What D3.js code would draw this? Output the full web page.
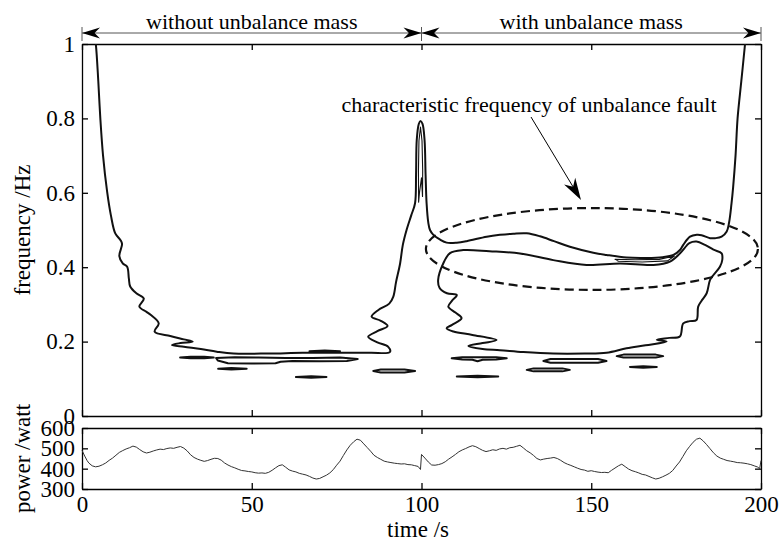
<!DOCTYPE html>
<html>
<head>
<meta charset="utf-8">
<script src="https://cdn.jsdelivr.net/npm/d3@7"></script>
<style>
  body { margin: 0; background: #fff; }
  svg { display: block; font-family: "Liberation Serif", "Times New Roman", serif; }
  .axis path, .axis line { stroke: #000; stroke-width: 1.3; }
  .axis text { font-size: 23px; fill: #000; font-family: "Liberation Serif", serif; }
  .ridge { fill: none; stroke: #111; stroke-width: 2; stroke-linejoin: round; stroke-linecap: round; }
  .thin { stroke-width: 1.1; }
  .label { font-size: 23px; fill: #000; }
  .note { font-size: 22px; fill: #000; }
</style>
</head>
<body>
<svg id="chart" width="780" height="542"></svg>
<script>
const timeTicks = [0, 50, 100, 150, 200];
const freqTicks = [0, 0.2, 0.4, 0.6, 0.8, 1];
const powerTicks = [300, 400, 500, 600];

// contour lines, [time s, frequency Hz]
const mainRidge = [
  [3.6, 1.03], [4.1, 0.997], [4.8, 0.9], [5.4, 0.8], [6.2, 0.7], [7.4, 0.603], [8.5, 0.54],
  [9.8, 0.491], [11.4, 0.472], [11.8, 0.462], [11.0, 0.43], [12.0, 0.41], [13.3, 0.401],
  [13.8, 0.37], [14.2, 0.348], [16, 0.33], [18.2, 0.316], [16.9, 0.294], [19, 0.28],
  [20.2, 0.272], [22.6, 0.249], [21.4, 0.227], [26, 0.215], [30, 0.206], [32.6, 0.2],
  [29, 0.196], [26.5, 0.191], [30, 0.186], [35, 0.18], [39.7, 0.173], [44.6, 0.168],
  [55, 0.168], [65, 0.17], [75, 0.17], [85, 0.17], [90.7, 0.172], [90.2, 0.186], [87, 0.198],
  [84.3, 0.213], [87, 0.228], [90, 0.242], [88, 0.256], [85.3, 0.267], [87.3, 0.285],
  [90.5, 0.302], [91.7, 0.321], [92.5, 0.36], [93.7, 0.41], [94.5, 0.46], [95.6, 0.5],
  [97, 0.54], [98.1, 0.572], [98.4, 0.65], [98.6, 0.742], [99.2, 0.785], [99.7, 0.793],
  [100.3, 0.785], [100.9, 0.742], [101.2, 0.65], [101.5, 0.572], [102.0, 0.52], [102.5, 0.5],
  [103.5, 0.487], [105.5, 0.474], [107.4, 0.466], [110.4, 0.466], [113.3, 0.47], [119.2, 0.482],
  [123.1, 0.487], [127, 0.49], [131, 0.491], [134.9, 0.483], [139, 0.47], [143.7, 0.455],
  [150.6, 0.439], [154.5, 0.433], [160.4, 0.426], [166, 0.425], [171, 0.427], [174.2, 0.433],
  [176.2, 0.447], [177.1, 0.46], [179.1, 0.482], [181.1, 0.487], [182.5, 0.486], [185, 0.478],
  [186.5, 0.478], [188.4, 0.482], [189.9, 0.496], [190.6, 0.52], [191.3, 0.57], [191.8, 0.616],
  [192.5, 0.7], [193.1, 0.8], [194.2, 0.9], [195.3, 1.0], [195.6, 1.03]
];

const lowerRidge = [
  [112.3, 0.446], [108.4, 0.438], [106.4, 0.41], [104.9, 0.366], [105.3, 0.345], [107.5, 0.33],
  [110.4, 0.325], [109, 0.31], [107.9, 0.294], [110, 0.278], [111.8, 0.263], [109, 0.245],
  [107.4, 0.236], [109.4, 0.227], [115, 0.218], [122.1, 0.204], [118, 0.196], [113.8, 0.188],
  [118, 0.18], [123.1, 0.177], [130, 0.172], [138.8, 0.168], [148, 0.168], [154.5, 0.17],
  [160.4, 0.182], [166, 0.19], [172.2, 0.2], [169.3, 0.205], [173, 0.21], [176.1, 0.214],
  [177.1, 0.249], [179, 0.255], [181, 0.258], [181.5, 0.294], [182.5, 0.31], [184, 0.33],
  [185, 0.366], [186, 0.379], [187.9, 0.401], [188.6, 0.42], [188.4, 0.437], [186, 0.447],
  [183.5, 0.46], [181, 0.469], [178.9, 0.465], [178.1, 0.458], [176.1, 0.437], [173.2, 0.415],
  [168.3, 0.406], [158.5, 0.41], [148.6, 0.406], [138.8, 0.419], [129, 0.437], [120, 0.443]
];

const peakCore = [
  [99.15, 0.575], [99.1, 0.66], [99.25, 0.74], [99.7, 0.777], [100.15, 0.74], [100.35, 0.66],
  [100.3, 0.59], [100.0, 0.64], [99.7, 0.62], [99.4, 0.6]
];

const ringCore = [
  [157, 0.421], [163, 0.42], [170, 0.421], [174.5, 0.43], [172.5, 0.417], [165, 0.414], [158, 0.416]
];

const islands = [
  [[28.9, 0.157], [32, 0.159], [36, 0.159], [38.8, 0.157], [36, 0.155], [32, 0.155]],
  [[39.5, 0.156], [45, 0.158], [52, 0.157], [60, 0.156], [68, 0.156], [76, 0.157], [81.2, 0.153],
   [78, 0.148], [70, 0.147], [62, 0.148], [58.5, 0.146], [57, 0.142], [50, 0.141], [43, 0.142], [40, 0.149]],
  [[67, 0.174], [71.5, 0.176], [76, 0.174], [71.5, 0.172]],
  [[40.1, 0.127], [44, 0.129], [48.5, 0.127], [44, 0.125]],
  [[63, 0.105], [67.5, 0.107], [72, 0.105], [67.5, 0.103]],
  [[85.8, 0.121], [88, 0.125], [95, 0.125], [98.1, 0.121], [95, 0.117], [88, 0.117]],
  [[108.9, 0.155], [112, 0.158], [117, 0.158], [122, 0.158], [125.1, 0.155], [122, 0.152],
   [118, 0.151], [116.5, 0.147], [115, 0.151], [112, 0.152]],
  [[110.4, 0.106], [116.5, 0.108], [122.6, 0.106], [116.5, 0.104]],
  [[135.9, 0.148], [138, 0.153], [152, 0.153], [154.5, 0.148], [152, 0.143], [138, 0.143]],
  [[131, 0.124], [133, 0.128], [141.5, 0.128], [143.7, 0.124], [141.5, 0.12], [133, 0.12]],
  [[157.5, 0.161], [159.5, 0.165], [169, 0.165], [171.2, 0.161], [169, 0.157], [159.5, 0.157]],
  [[161.4, 0.132], [165.3, 0.134], [169.3, 0.132], [165.3, 0.130]]
];

// [time s, power W]
const power = [
  [0, 490], [0.8, 462], [1.5, 440], [2, 428], [3, 414], [4, 409], [5, 412], [6, 419], [7, 428],
  [8, 441], [9, 452], [10, 466], [11, 480], [12, 489], [13, 497], [14, 503], [15, 511], [16, 506],
  [17, 494], [18, 483], [19, 477], [20, 481], [21, 487], [22, 492], [23, 496], [24, 494], [25, 499],
  [26, 502], [27, 500], [28, 505], [29, 509], [30, 501], [31, 487], [32, 468], [33, 455], [34, 447],
  [35, 441], [36, 436], [37, 440], [38, 446], [39, 451], [40, 450], [41, 442], [42, 428], [43, 418],
  [44, 410], [45, 404], [46, 397], [47, 391], [48, 389], [49, 386], [50, 384], [51, 380], [52, 378],
  [53, 379], [54, 377], [55, 382], [56, 392], [57, 404], [58, 415], [59, 419], [60, 407], [61, 394],
  [62, 388], [63, 384], [64, 377], [65, 373], [66, 369], [67, 362], [68, 354], [69, 349], [70, 352],
  [71, 360], [72, 368], [73, 379], [74, 395], [75, 417], [76, 437], [77, 465], [78, 492], [79, 515],
  [80, 532], [81, 545], [82, 540], [83, 522], [84, 504], [85, 486], [86, 466], [87, 455], [88, 446],
  [89, 437], [90, 433], [91, 430], [92, 427], [93, 425], [94, 423], [95, 424], [96, 420], [97, 419],
  [98, 415], [99, 411], [99.7, 396], [100, 470], [101, 452], [102, 433], [103, 418], [104, 417],
  [105, 420], [106, 425], [107, 434], [108, 447], [109, 458], [110, 470], [111, 483], [112, 492],
  [113, 499], [114, 507], [115, 513], [116, 508], [117, 499], [118, 490], [119, 484], [120, 488],
  [121, 493], [122, 490], [123, 497], [124, 500], [125, 496], [126, 503], [127, 505], [128, 510],
  [129, 515], [130, 502], [131, 488], [132, 478], [133, 465], [134, 450], [135, 443], [136, 447],
  [137, 450], [138, 452], [139, 455], [140, 450], [141, 441], [142, 430], [143, 422], [144, 416],
  [145, 409], [146, 402], [147, 396], [148, 393], [149, 387], [150, 390], [151, 386], [152, 383],
  [153, 381], [154, 382], [155, 380], [156, 392], [157, 403], [158, 414], [159, 422], [160, 410],
  [161, 398], [162, 390], [163, 385], [164, 379], [165, 372], [166, 369], [167, 362], [168, 355],
  [169, 349], [170, 353], [171, 360], [172, 368], [173, 377], [174, 391], [175, 413], [176, 433],
  [177, 460], [178, 488], [179, 510], [180, 530], [181, 545], [182, 550], [183, 536], [184, 518],
  [185, 498], [186, 478], [187, 462], [188, 452], [189, 446], [190, 440], [191, 437], [192, 434],
  [193, 430], [194, 429], [195, 427], [196, 424], [197, 420], [198, 414], [199, 408], [199.6, 400],
  [200, 440]
];

const spans = [
  { from: 0, to: 100, label: "without unbalance mass" },
  { from: 100, to: 200, label: "with unbalance mass" }
];
const faultZone = { t: 150.2, f: 0.449, rt: 48.9, rf: 0.11 };
const faultNote = "characteristic frequency of unbalance fault";

// layout
const left = 82, right = 761;
const freqTop = 44, freqBottom = 416;
const powTop = 428, powBottom = 489;

const svg = d3.select("#chart");
const x = d3.scaleLinear().domain([0, 200]).range([left, right]);
const yF = d3.scaleLinear().domain([0, 1]).range([freqBottom, freqTop]);
const yP = d3.scaleLinear().domain([300, 600]).range([powBottom, powTop]);

svg.append("defs").append("clipPath").attr("id", "clipF")
  .append("rect").attr("x", left).attr("y", freqTop)
  .attr("width", right - left).attr("height", freqBottom - freqTop);

function boxAxes(yScale, y0, y1, yTicks, showX) {
  const fmt = d3.format("~g");
  svg.append("g").attr("class", "axis").attr("transform", `translate(0,${y1})`)
    .call(d3.axisBottom(x).tickValues(timeTicks).tickSizeInner(-6).tickSizeOuter(0)
      .tickPadding(7).tickFormat(showX ? fmt : ""));
  svg.append("g").attr("class", "axis").attr("transform", `translate(0,${y0})`)
    .call(d3.axisTop(x).tickValues(timeTicks).tickSizeInner(-6).tickSizeOuter(0).tickFormat(""));
  svg.append("g").attr("class", "axis").attr("transform", `translate(${left},0)`)
    .call(d3.axisLeft(yScale).tickValues(yTicks).tickSizeInner(-6).tickSizeOuter(0)
      .tickPadding(7).tickFormat(fmt));
  svg.append("g").attr("class", "axis").attr("transform", `translate(${right},0)`)
    .call(d3.axisRight(yScale).tickValues(yTicks).tickSizeInner(-6).tickSizeOuter(0).tickFormat(""));
}

boxAxes(yF, freqTop, freqBottom, freqTicks, false);
boxAxes(yP, powTop, powBottom, powerTicks, true);
svg.selectAll(".axis .domain").attr("stroke-width", 1.5);

// contours
const smooth = d3.line().x(d => x(d[0])).y(d => yF(d[1])).curve(d3.curveCatmullRom.alpha(0.5));
const smoothClosed = d3.line().x(d => x(d[0])).y(d => yF(d[1])).curve(d3.curveCatmullRomClosed.alpha(0.5));
const closed = d3.line().x(d => x(d[0])).y(d => yF(d[1])).curve(d3.curveLinearClosed);

const plot = svg.append("g").attr("clip-path", "url(#clipF)");
plot.append("path").attr("class", "ridge").attr("d", smooth(mainRidge));
plot.append("path").attr("class", "ridge").attr("d", smoothClosed(lowerRidge));
plot.append("path").attr("class", "ridge thin").attr("d", closed(peakCore));
plot.append("path").attr("class", "ridge thin").attr("d", closed(ringCore));
plot.selectAll(".island").data(islands).join("path")
  .attr("class", "ridge island")
  .attr("stroke-width", 1.8)
  .attr("d", d => closed(d));

// dashed ellipse round the fault frequency
plot.append("ellipse")
  .attr("cx", x(faultZone.t)).attr("cy", yF(faultZone.f))
  .attr("rx", x(faultZone.t + faultZone.rt) - x(faultZone.t))
  .attr("ry", yF(faultZone.f - faultZone.rf) - yF(faultZone.f))
  .attr("fill", "none").attr("stroke", "#111").attr("stroke-width", 2.2)
  .attr("stroke-dasharray", "9,5");

// power line
svg.append("path")
  .datum(power)
  .attr("fill", "none").attr("stroke", "#333").attr("stroke-width", 1)
  .attr("d", d3.line().x(d => x(d[0])).y(d => yP(d[1])));

// arrows
function arrowHead(px, py, angle, len, half) {
  svg.append("path")
    .attr("d", `M0,0L${-len},${-half}L${-len * 0.7},0L${-len},${half}Z`)
    .attr("transform", `translate(${px},${py}) rotate(${angle})`)
    .attr("fill", "#000");
}

const spanY = 33;
spans.forEach(s => {
  svg.append("line")
    .attr("x1", x(s.from)).attr("x2", x(s.to)).attr("y1", spanY).attr("y2", spanY)
    .attr("stroke", "#555").attr("stroke-width", 1);
  arrowHead(x(s.from), spanY, 180, 18, 5.5);
  arrowHead(x(s.to), spanY, 0, 18, 5.5);
  svg.append("text").attr("class", "note")
    .attr("x", (x(s.from) + x(s.to)) / 2).attr("y", 29)
    .attr("text-anchor", "middle").text(s.label);
});
[0, 100, 200].forEach(t => {
  svg.append("line").attr("x1", x(t)).attr("x2", x(t)).attr("y1", 27).attr("y2", 41)
    .attr("stroke", "#555").attr("stroke-width", 1);
});

svg.append("text").attr("class", "note")
  .attr("x", 529).attr("y", 112).attr("text-anchor", "middle").text(faultNote);

const noteFrom = [531, 117], noteTo = [581, 200];
const ang = Math.atan2(noteTo[1] - noteFrom[1], noteTo[0] - noteFrom[0]);
svg.append("line")
  .attr("x1", noteFrom[0]).attr("y1", noteFrom[1])
  .attr("x2", noteTo[0] - 14 * Math.cos(ang)).attr("y2", noteTo[1] - 14 * Math.sin(ang))
  .attr("stroke", "#000").attr("stroke-width", 1);
arrowHead(noteTo[0], noteTo[1], ang * 180 / Math.PI, 22, 6.5);

// axis titles
svg.append("text").attr("class", "label")
  .attr("transform", `translate(30,${(freqTop + freqBottom) / 2}) rotate(-90)`)
  .attr("text-anchor", "middle").text("frequency /Hz");
svg.append("text").attr("class", "label")
  .attr("transform", `translate(30,${(powTop + powBottom) / 2}) rotate(-90)`)
  .attr("text-anchor", "middle").text("power /watt");
svg.append("text").attr("class", "label")
  .attr("x", 418).attr("y", 537).attr("text-anchor", "middle").text("time /s");
</script>
</body>
</html>
